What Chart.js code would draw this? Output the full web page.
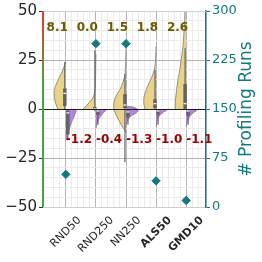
<!DOCTYPE html>
<html>
<head>
<meta charset="utf-8">
<script src="https://cdn.jsdelivr.net/npm/chart.js@4/dist/chart.umd.min.js"></script>
<style>
  html, body { margin: 0; padding: 0; background: #fff; }
  canvas { display: block; }
</style>
</head>
<body>
<canvas id="violinChart" width="262" height="262"></canvas>
<script>
const categories = ['RND50', 'RND250', 'NN250', 'ALS50', 'GMD10'];
const boldCategories = ['ALS50', 'GMD10'];
const posMeans = [8.1, 0.0, 1.5, 1.8, 2.6];
const negMeans = [-1.2, -0.4, -1.3, -1.0, -1.1];
const profilingRuns = [50, 250, 250, 40, 10];
const leftTicks = [-50, -25, 0, 25, 50];
const rightTicks = [0, 75, 150, 225, 300];

/* violin halves: levels on the left axis, half-widths in category units */
const posLevels = [
    [0, 2, 4, 6, 8, 10, 12, 14, 16, 18, 20, 22, 24],
    [0, 1, 2, 3, 4, 5, 6, 8, 10, 14, 20, 28],
    [-12, -10, -8, -6, -4, -2, 0, 2, 4, 6, 8, 10, 12, 14, 16, 18, 24, 32],
    [0, 2, 4, 6, 8, 10, 12, 14, 16, 18, 20, 23, 26, 32],
    [0, 4, 8, 12, 16, 20, 25, 30, 35, 40, 45, 50]
];
const posWidths = [
    [0.27, 0.32, 0.36, 0.38, 0.39, 0.38, 0.34, 0.28, 0.22, 0.15, 0.10, 0.05, 0],
    [0.42, 0.36, 0.30, 0.24, 0.18, 0.13, 0.09, 0.05, 0.03, 0.015, 0.008, 0],
    [0, 0.08, 0.16, 0.23, 0.30, 0.36, 0.40, 0.41, 0.39, 0.35, 0.28, 0.20, 0.14, 0.09, 0.06, 0.03, 0.01, 0],
    [0.37, 0.40, 0.41, 0.40, 0.37, 0.32, 0.27, 0.21, 0.15, 0.10, 0.06, 0.03, 0.015, 0],
    [0.36, 0.36, 0.33, 0.30, 0.26, 0.21, 0.17, 0.12, 0.09, 0.07, 0.05, 0.04]
];
const negLevels = [
    [0, -1, -2, -4, -6, -8, -10, -12, -14, -16],
    [0, -1, -2, -4, -6, -8, -10],
    [1.5, 1, 0, -1, -2, -3, -4, -6, -8],
    [0, -1, -2, -3, -4, -6, -9],
    [0, -1, -2, -3, -4, -6, -9]
];
const negWidths = [
    [0.34, 0.34, 0.32, 0.27, 0.21, 0.16, 0.12, 0.08, 0.04, 0],
    [0.36, 0.31, 0.24, 0.14, 0.07, 0.03, 0],
    [0, 0.22, 0.38, 0.40, 0.34, 0.22, 0.12, 0.04, 0],
    [0.40, 0.31, 0.21, 0.14, 0.09, 0.04, 0],
    [0.40, 0.33, 0.23, 0.16, 0.11, 0.05, 0]
];

/* inner boxes */
const posQ1 = [1.5, -0.5, 0.5, 0.5, 0];
const posQ3 = [10.5, 1, 7.6, 5, 12.7];
const posMedian = [8, 0, 2, 2.7, 2.7];
const posWhiskerLow = [0, -1, -27, 0, 0];
const posWhiskerHigh = [24, 30, 18, 20, 31];
const negQ1 = [-13, -3, -4.5, -3, -3.5];
const negQ3 = [-1, 0, -1, 0, 0];
const negMedian = [-2, -1, -1.5, -1, -1];
const negWhiskerLow = [-16, -8, -8, -8, -8];

const FONT = '"DejaVu Sans", sans-serif';
const TEAL = '#14787e';
const YELLOW = '#e9d387';
const PURPLE = '#b781e0';
const BOXGRAY = '#636363';

const posOffset = -0.035;
const negOffset = 0.065;

const datasets = [];

categories.forEach((cat, i) => {

    datasets.push({
        indexAxis: 'y',
        data: posLevels[i].map((lv, k) => ({ x: i - posWidths[i][k], y: lv })),
        fill: { value: i },
        backgroundColor: YELLOW,
        borderColor: '#7a7a7a',
        borderWidth: 0.8,
        pointRadius: 0,
        tension: 0.35,
        order: 6
    });

    datasets.push({
        indexAxis: 'y',
        data: negLevels[i].map((lv, k) => ({ x: i + negWidths[i][k], y: lv })),
        fill: { value: i },
        backgroundColor: PURPLE,
        borderColor: '#7a7a7a',
        borderWidth: 0.8,
        pointRadius: 0,
        tension: 0.25,
        order: 6
    });

    // whiskers
    datasets.push({
        data: [{ x: i + posOffset, y: posWhiskerLow[i] }, { x: i + posOffset, y: posWhiskerHigh[i] }],
        borderColor: BOXGRAY, borderWidth: 1.2, pointRadius: 0, fill: false, order: 4
    });
    datasets.push({
        data: [{ x: i + negOffset, y: negWhiskerLow[i] }, { x: i + negOffset, y: 0 }],
        borderColor: BOXGRAY, borderWidth: 1.2, pointRadius: 0, fill: false, order: 4
    });

    // boxes
    datasets.push({
        data: [{ x: i + posOffset, y: posQ1[i] }, { x: i + posOffset, y: posQ3[i] }],
        borderColor: BOXGRAY, borderWidth: 3.5, borderCapStyle: 'butt', pointRadius: 0, fill: false, order: 3
    });
    datasets.push({
        data: [{ x: i + negOffset, y: negQ1[i] }, { x: i + negOffset, y: negQ3[i] }],
        borderColor: BOXGRAY, borderWidth: 3.5, borderCapStyle: 'butt', pointRadius: 0, fill: false, order: 3
    });

    // medians
    datasets.push({
        data: [{ x: i + posOffset - 0.05, y: posMedian[i] }, { x: i + posOffset + 0.05, y: posMedian[i] }],
        borderColor: '#ffffff', borderWidth: 1.2, pointRadius: 0, fill: false, order: 2
    });
    datasets.push({
        data: [{ x: i + negOffset - 0.05, y: negMedian[i] }, { x: i + negOffset + 0.05, y: negMedian[i] }],
        borderColor: '#ffffff', borderWidth: 1.2, pointRadius: 0, fill: false, order: 2
    });

});

datasets.push({
    data: profilingRuns.map((v, i) => ({ x: i, y: v })),
    yAxisID: 'y2',
    showLine: false,
    pointStyle: 'rectRot',
    pointRadius: 4.2,
    pointBackgroundColor: TEAL,
    pointBorderColor: TEAL,
    order: 0
});

const isWhole = v => Math.abs(v - Math.round(v)) < 1e-6;

/* ---------------- DECORATIONS ---------------- */

const decorPlugin = {
    id: 'decor',
    afterDatasetsDraw(chart) {
        const { ctx, chartArea: area, scales } = chart;
        const xs = scales.x, ys = scales.y;

        ctx.save();

        // zero line
        const y0 = Math.round(ys.getPixelForValue(0)) + 0.5;
        ctx.strokeStyle = '#1c1c1c';
        ctx.lineWidth = 1;
        ctx.beginPath();
        ctx.moveTo(area.left, y0);
        ctx.lineTo(area.right, y0);
        ctx.stroke();

        // top frame
        ctx.strokeStyle = '#cfcfcf';
        ctx.beginPath();
        ctx.moveTo(area.left, area.top + 0.5);
        ctx.lineTo(area.right, area.top + 0.5);
        ctx.stroke();

        // left spine gradient
        const grad = ctx.createLinearGradient(0, area.top, 0, area.bottom);
        grad.addColorStop(0, '#f03434');
        grad.addColorStop(0.2, '#9c6e2e');
        grad.addColorStop(0.38, '#3ea83e');
        grad.addColorStop(1, '#3ea83e');
        ctx.strokeStyle = grad;
        ctx.lineWidth = 2;
        ctx.beginPath();
        ctx.moveTo(area.left, area.top);
        ctx.lineTo(area.left, area.bottom);
        ctx.stroke();

        // mean labels
        ctx.font = 'bold 12px ' + FONT;
        ctx.textBaseline = 'middle';
        categories.forEach((cat, i) => {
            const x = xs.getPixelForValue(i);
            ctx.fillStyle = '#6b5a00';
            ctx.textAlign = 'right';
            ctx.fillText(posMeans[i].toFixed(1), x + 2, ys.getPixelForValue(41.5));
            ctx.fillStyle = '#960000';
            ctx.textAlign = 'left';
            ctx.fillText(negMeans[i].toFixed(1), x, ys.getPixelForValue(-15.5));
        });

        // category labels, rotated and centred under each tick
        ctx.fillStyle = '#262626';
        categories.forEach((cat, i) => {
            const bold = boldCategories.includes(cat);
            ctx.font = (bold ? 'bold ' : '') + '11px ' + FONT;
            const w = ctx.measureText(cat).width;
            const half = (w + 13) * Math.SQRT1_2 / 2;
            ctx.save();
            ctx.translate(xs.getPixelForValue(i), area.bottom + 7 + half);
            ctx.rotate(-Math.PI / 4);
            ctx.textAlign = 'center';
            ctx.textBaseline = 'middle';
            ctx.fillText(cat, 0, 0);
            ctx.restore();
        });

        // right axis title
        ctx.save();
        ctx.translate(247, (area.top + area.bottom) / 2);
        ctx.rotate(-Math.PI / 2);
        ctx.font = '17px ' + FONT;
        ctx.fillStyle = TEAL;
        ctx.textAlign = 'center';
        ctx.textBaseline = 'middle';
        ctx.fillText('# Profiling Runs', 0, 0);
        ctx.restore();

        ctx.restore();
    }
};

/* ---------------- CHART ---------------- */

new Chart(document.getElementById('violinChart'), {
    type: 'line',
    data: { datasets },
    options: {
        responsive: false,
        animation: false,
        layout: { padding: { top: 10 } },
        plugins: {
            legend: { display: false },
            tooltip: { enabled: false }
        },
        scales: {
            x: {
                type: 'linear',
                min: -0.76,
                max: 4.66,
                ticks: { display: false, stepSize: 0.2, autoSkip: false },
                grid: {
                    drawTicks: false,
                    color: c => {
                        const v = c.tick.value;
                        return isWhole(v) && v >= 0 && v <= 4 ? '#b4b4b4' : '#ebebeb';
                    }
                },
                border: { color: '#cfcfcf' },
                afterFit: s => { s.height = 55; }
            },
            y: {
                min: -50,
                max: 50,
                ticks: {
                    stepSize: 5,
                    autoSkip: false,
                    padding: 2,
                    color: '#262626',
                    font: { family: FONT, size: 15 },
                    callback: v => leftTicks.includes(v) ? (v < 0 ? '\u2212' + (-v) : String(v)) : ''
                },
                grid: {
                    tickLength: 4,
                    color: c => {
                        const v = c.tick.value;
                        if (v === 0) return 'transparent';
                        return leftTicks.includes(v) ? '#b4b4b4' : '#ebebeb';
                    },
                    tickColor: c => leftTicks.includes(c.tick.value) ? '#333333' : 'transparent'
                },
                border: { display: false },
                afterFit: s => { s.width = 43; }
            },
            y2: {
                position: 'right',
                min: 0,
                max: 300,
                ticks: {
                    stepSize: 75,
                    padding: 2,
                    color: TEAL,
                    font: { family: FONT, size: 13 },
                    callback: v => rightTicks.includes(v) ? String(v) : ''
                },
                grid: { drawOnChartArea: false, color: TEAL, tickLength: 4 },
                border: { color: TEAL, width: 1.5 },
                afterFit: s => { s.width = 56; }
            }
        }
    },
    plugins: [decorPlugin]
});
</script>
</body>
</html>
